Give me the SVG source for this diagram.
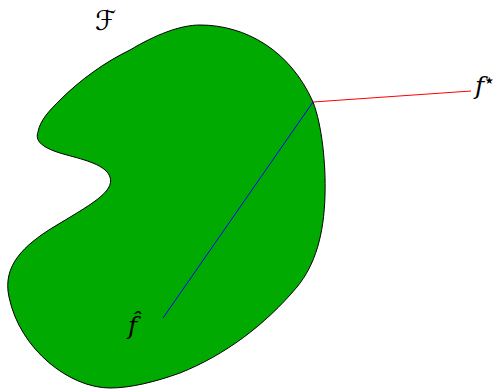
<svg xmlns="http://www.w3.org/2000/svg" width="499" height="389" viewBox="0 0 499 389">
<style>
.lbl{font-family:"DejaVu Serif",serif;font-style:italic;font-size:25px;fill:#000}
.set{fill:#00aa00;stroke:#000;stroke-width:1}
</style>
<rect width="499" height="389" fill="#fff"/>
<g id="setF">
<path class="set" d="M200,25 C245,25 290,50 313,102 C322,125 326,165 325,195 C324,235 315,265 297,287 C265,325 225,355 180,373 C155,382 130,388 110,388 C70,388 20,350 9,297 C2,265 25,245 52,228 C90,205 115,192 110,177 C106,165 85,160 67,155 C40,148 35,140 38,132 C40,120 50,110 60,100 C80,80 105,62 130,50 C155,35 180,25 200,25 Z"/>
</g>
<g id="connectors">
<line x1="313" y1="102" x2="471" y2="91" stroke="#ff0000" stroke-width="1"/>
<line x1="313" y1="102" x2="163" y2="318" stroke="#0000ff" stroke-width="1"/>
</g>
<g id="labelF"><text x="95" y="30" style="font-family:'DejaVu Sans',sans-serif;font-size:27px;fill:#000">ℱ</text></g>
<g id="fstar"><text class="lbl" x="475" y="94">f<tspan font-size="20" dy="-7" dx="-1" font-style="normal">⋆</tspan></text></g>
<g id="fhat"><text class="lbl" x="128" y="334">f̂</text></g>
</svg>
